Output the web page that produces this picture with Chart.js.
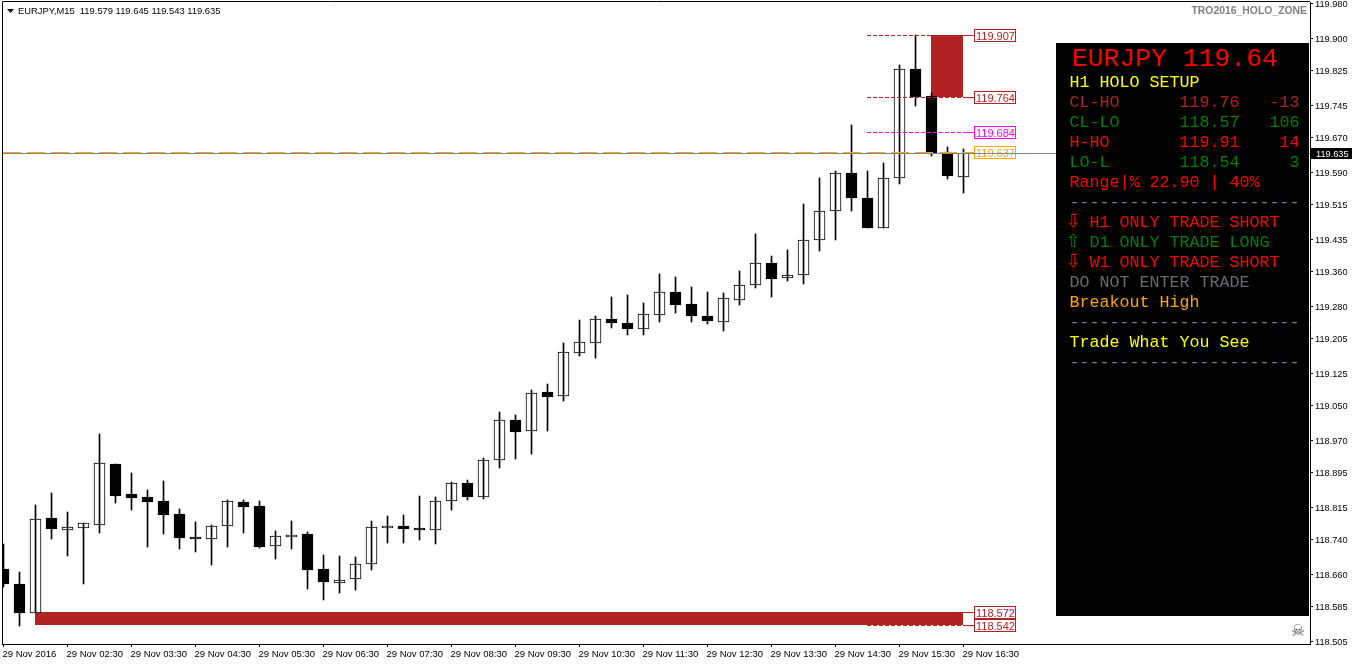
<!DOCTYPE html>
<html>
<head>
<meta charset="utf-8">
<title>EURJPY M15</title>
<script src="https://cdn.jsdelivr.net/npm/chart.js@4"></script>
<style>
  html, body { margin: 0; padding: 0; background: #fff; overflow: hidden; }
  canvas { display: block; }
</style>
</head>
<body>
<canvas id="chartCandle" width="1352" height="665"></canvas>
<script>
/* ---------- DATA ---------- */
const opens = [
  118.672, 118.639, 118.571, 118.790, 118.763, 118.768, 118.775, 118.915, 118.846, 118.839,
  118.830, 118.799, 118.746, 118.742, 118.772, 118.827, 118.818, 118.726, 118.747, 118.753,
  118.672, 118.640, 118.649, 118.684, 118.768, 118.772, 118.767, 118.763, 118.830, 118.871,
  118.839, 118.925, 119.017, 118.992, 119.082, 119.074, 119.173, 119.196, 119.251, 119.242,
  119.229, 119.261, 119.314, 119.286, 119.258, 119.245, 119.296, 119.329, 119.381, 119.347,
  119.354, 119.433, 119.502, 119.590, 119.532, 119.461, 119.577, 119.829, 119.766, 119.637,
  119.579
];
const highs = [
  118.731, 118.665, 118.820, 118.848, 118.804, 118.780, 118.985, 118.915, 118.894, 118.855,
  118.876, 118.811, 118.781, 118.774, 118.832, 118.832, 118.830, 118.760, 118.783, 118.758,
  118.704, 118.702, 118.700, 118.783, 118.795, 118.797, 118.841, 118.839, 118.873, 118.878,
  118.929, 119.036, 119.029, 119.087, 119.101, 119.196, 119.249, 119.258, 119.302, 119.307,
  119.288, 119.356, 119.349, 119.326, 119.314, 119.312, 119.363, 119.448, 119.397, 119.411,
  119.518, 119.578, 119.594, 119.701, 119.594, 119.613, 119.838, 119.907, 119.775, 119.650,
  119.645
];
const lows = [
  118.631, 118.540, 118.571, 118.741, 118.702, 118.637, 118.755, 118.825, 118.809, 118.723,
  118.753, 118.718, 118.711, 118.683, 118.723, 118.755, 118.721, 118.697, 118.718, 118.626,
  118.600, 118.617, 118.623, 118.670, 118.732, 118.732, 118.739, 118.730, 118.809, 118.832,
  118.834, 118.906, 118.927, 118.938, 118.992, 119.061, 119.166, 119.161, 119.231, 119.215,
  119.215, 119.244, 119.265, 119.244, 119.240, 119.224, 119.284, 119.323, 119.302, 119.339,
  119.333, 119.409, 119.435, 119.502, 119.462, 119.461, 119.563, 119.743, 119.629, 119.574,
  119.543
];
const closes = [
  118.638, 118.571, 118.789, 118.765, 118.769, 118.779, 118.917, 118.841, 118.836, 118.827,
  118.797, 118.744, 118.741, 118.773, 118.829, 118.816, 118.723, 118.748, 118.752, 118.670,
  118.642, 118.648, 118.685, 118.769, 118.773, 118.765, 118.762, 118.829, 118.871, 118.839,
  118.926, 119.017, 118.989, 119.079, 119.071, 119.174, 119.197, 119.251, 119.242, 119.228,
  119.262, 119.313, 119.284, 119.258, 119.247, 119.299, 119.330, 119.381, 119.344, 119.353,
  119.434, 119.501, 119.589, 119.530, 119.462, 119.578, 119.829, 119.764, 119.635, 119.581,
  119.635
];

const xTickIndex = [0, 4, 8, 12, 16, 20, 24, 28, 32, 36, 40, 44, 48, 52, 56, 60];
const xTickLabels = [
  '29 Nov 2016', '29 Nov 02:30', '29 Nov 03:30', '29 Nov 04:30', '29 Nov 05:30', '29 Nov 06:30',
  '29 Nov 07:30', '29 Nov 08:30', '29 Nov 09:30', '29 Nov 10:30', '29 Nov 11:30', '29 Nov 12:30',
  '29 Nov 13:30', '29 Nov 14:30', '29 Nov 15:30', '29 Nov 16:30'
];
const yTicks = [
  119.980, 119.900, 119.825, 119.745, 119.670, 119.590, 119.515, 119.435, 119.360, 119.280,
  119.205, 119.125, 119.050, 118.970, 118.895, 118.815, 118.740, 118.660, 118.585, 118.505
];

const lastPrice = 119.635;
const orangeLevel = 119.637;
const levelValues = [119.907, 119.764, 119.684, 119.637, 118.572, 118.542];
const levelColors = ['#b22222', '#b22222', '#ff00ff', '#ffa500', '#b22222', '#b22222'];
const dashedLevels = [119.907, 119.764, 119.684, 118.542];
const zoneHigh = [119.907, 119.764];
const zoneLow = [118.572, 118.542];

const headerText = 'EURJPY,M15  119.579 119.645 119.543 119.635';
const watermarkText = 'TRO2016_HOLO_ZONE';

const FIREBRICK = '#b22222';
const GREEN = '#008000';
const RED = '#ff0000';
const YELLOW = '#ffff00';
const ORANGE = '#ffa500';
const SLATE = '#708090';
const DOWN = '\u21e9';
const UP = '\u21e7';

const panelTitle = 'EURJPY 119.64';
const panelRows = [
  ['H1 HOLO SETUP', YELLOW],
  ['CL-HO      119.76   -13', FIREBRICK],
  ['CL-LO      118.57   106', GREEN],
  ['H-HO       119.91    14', RED],
  ['LO-L       118.54     3', GREEN],
  ['Range|% 22.90 | 40%', RED],
  ['-----------------------', SLATE],
  ['  H1 ONLY TRADE SHORT', RED, DOWN],
  ['  D1 ONLY TRADE LONG', GREEN, UP],
  ['  W1 ONLY TRADE SHORT', RED, DOWN],
  ['DO NOT ENTER TRADE', '#666b72'],
  ['Breakout High', ORANGE],
  ['-----------------------', SLATE],
  ['Trade What You See', YELLOW],
  ['-----------------------', SLATE]
];

const TICK_FONT = 'Liberation Sans';
const MONO = '"Liberation Mono", monospace';

// whole pixel row of a level
function levelRow(scale, v) { return Math.round(scale.getPixelForValue(v) - 0.1); }

/* ---------- PLUGIN: snap candles to whole pixels ---------- */
const snapBars = {
  id: 'snapBars',
  beforeDatasetsDraw(chart) {
    chart.data.datasets.forEach((_, i) => {
      chart.getDatasetMeta(i).data.forEach(bar => {
        bar.y = Math.round(bar.y);
        bar.base = Math.round(bar.base);
      });
    });
  }
};

/* ---------- PLUGIN: red zones behind the candles ---------- */
const zones = {
  id: 'zones',
  beforeDatasetsDraw(chart) {
    const { ctx, scales: { x, y } } = chart;
    ctx.save();
    ctx.fillStyle = FIREBRICK;
    const top = levelRow(y, zoneHigh[0]);
    const bottom = levelRow(y, zoneHigh[1]);
    ctx.fillRect(Math.round(x.getPixelForValue(58)) - 1, top, 32, bottom - top);
    const top2 = levelRow(y, zoneLow[0]);
    const bottom2 = levelRow(y, zoneLow[1]);
    ctx.fillRect(35, top2, 928, bottom2 - top2);
    ctx.restore();
  }
};

/* ---------- PLUGIN: level lines and labels over the candles ---------- */
const levels = {
  id: 'levels',
  afterDatasetsDraw(chart) {
    const { ctx, chartArea, scales: { y } } = chart;
    ctx.save();
    ctx.lineWidth = 1;

    // dashed level lines
    dashedLevels.forEach(v => {
      const py = levelRow(y, v) + 0.5;
      ctx.strokeStyle = levelColors[levelValues.indexOf(v)];
      ctx.setLineDash([4, 2]);
      ctx.beginPath();
      ctx.moveTo(867, py);
      ctx.lineTo(963, py);
      ctx.stroke();
    });
    ctx.setLineDash([]);

    // orange level
    const oy = levelRow(y, orangeLevel) + 0.5;
    ctx.strokeStyle = ORANGE;
    ctx.setLineDash([18, 6]);
    ctx.beginPath();
    ctx.moveTo(3, oy);
    ctx.lineTo(974, oy);
    ctx.stroke();
    ctx.setLineDash([]);

    // label boxes
    levelValues.forEach((v, i) => {
      const py = levelRow(y, v);
      ctx.strokeStyle = levelColors[i];
      ctx.beginPath();
      ctx.moveTo(963, py + 0.5);
      ctx.lineTo(974, py + 0.5);
      ctx.stroke();
      ctx.fillStyle = '#fff';
      ctx.fillRect(974, py - 6, 42, 13);
      ctx.strokeRect(974.5, py - 5.5, 41, 12);
      ctx.fillStyle = levelColors[i];
      ctx.font = '11px "Liberation Sans"';
      ctx.textAlign = 'left';
      ctx.textBaseline = 'alphabetic';
      ctx.fillText(v.toFixed(3), 976, py + 4.5);
    });

    // last price line
    const gy = Math.round(y.getPixelForValue(lastPrice)) + 0.5;
    ctx.strokeStyle = '#778899';
    ctx.beginPath();
    ctx.moveTo(chartArea.left, gy);
    ctx.lineTo(chartArea.right, gy);
    ctx.stroke();
    ctx.restore();
  }
};

/* ---------- PLUGIN: frame, texts, price tag and info panel ---------- */
const overlay = {
  id: 'overlay',
  afterDraw(chart) {
    const { ctx, chartArea, scales: { y } } = chart;
    ctx.save();

    // frame top and left
    ctx.strokeStyle = '#000';
    ctx.lineWidth = 1;
    ctx.beginPath();
    ctx.moveTo(chartArea.left + 0.5, chartArea.bottom);
    ctx.lineTo(chartArea.left + 0.5, chartArea.top - 0.5);
    ctx.lineTo(chartArea.right, chartArea.top - 0.5);
    ctx.stroke();

    // header
    ctx.fillStyle = '#000';
    ctx.beginPath();
    ctx.moveTo(7, 9);
    ctx.lineTo(14, 9);
    ctx.lineTo(10.5, 13);
    ctx.closePath();
    ctx.fill();
    ctx.font = '9.4px "Liberation Sans"';
    ctx.textAlign = 'left';
    ctx.textBaseline = 'alphabetic';
    ctx.fillText(headerText, 18, 14);

    ctx.fillStyle = '#808080';
    ctx.font = 'bold 10.4px "Liberation Sans"';
    ctx.textAlign = 'right';
    ctx.fillText(watermarkText, 1307, 14);

    // skull
    ctx.font = '16px "DejaVu Sans"';
    ctx.textAlign = 'center';
    ctx.fillStyle = '#555';
    ctx.fillText('\u2620', 1298, 636);

    // price tag
    const tagY = Math.round(y.getPixelForValue(lastPrice));
    ctx.fillStyle = '#000';
    ctx.fillRect(1311, tagY - 5, 41, 11);
    ctx.fillStyle = '#fff';
    ctx.font = `9.2px "${TICK_FONT}"`;
    ctx.textAlign = 'left';
    ctx.fillText(lastPrice.toFixed(3), 1316, tagY + 4);

    // info panel
    ctx.fillStyle = '#000';
    ctx.fillRect(1056, 43, 253, 573);
    ctx.textAlign = 'left';
    ctx.fillStyle = RED;
    ctx.font = '26.4px ' + MONO;
    ctx.fillText(panelTitle, 1072, 66);
    panelRows.forEach((row, i) => {
      const base = 87 + i * 20;
      ctx.fillStyle = row[1];
      ctx.font = '16.67px ' + MONO;
      ctx.fillText(row[0], 1069.5, base);
      if (row[2]) {
        ctx.font = '18px "DejaVu Sans"';
        ctx.fillText(row[2], 1066, base);
      }
    });
    ctx.restore();
  }
};

/* ---------- CHART ---------- */
const wickData = highs.map((h, i) => ({ x: i, y: [lows[i], h] }));
const bodyData = opens.map((o, i) => ({ x: i, y: [o, closes[i]] }));

new Chart(document.getElementById('chartCandle'), {
  type: 'bar',
  data: {
    datasets: [
      {
        label: 'Wick',
        data: wickData,
        grouped: false,
        barThickness: 1,
        backgroundColor: '#000',
        borderWidth: 0
      },
      {
        label: 'Body',
        data: bodyData,
        grouped: false,
        barThickness: 11,
        backgroundColor: closes.map((c, i) => c >= opens[i] ? '#fff' : '#000'),
        borderColor: '#000',
        borderWidth: 1,
        borderSkipped: false
      }
    ]
  },
  options: {
    responsive: false,
    animation: false,
    layout: { padding: { left: 2, top: 2, right: 0, bottom: 0 } },
    plugins: { legend: { display: false }, tooltip: { enabled: false } },
    scales: {
      x: {
        type: 'linear',
        offset: false,
        min: -0.09375,
        max: 81.656,
        afterBuildTicks: scale => { scale.ticks = xTickIndex.map(v => ({ value: v })); },
        afterFit: scale => {
          scale.height = 21;
          scale.paddingLeft = 0;
          scale.paddingRight = 0;
        },
        ticks: {
          autoSkip: false,
          maxRotation: 0,
          align: 'start',
          labelOffset: -1,
          padding: 2,
          color: '#000',
          font: { family: TICK_FONT, size: 9.5 },
          callback: v => xTickLabels[xTickIndex.indexOf(v)]
        },
        grid: { offset: false, drawOnChartArea: false, color: '#000', tickLength: 3 },
        border: { color: '#000', width: 1 }
      },
      y: {
        position: 'right',
        min: 118.4992,
        max: 119.9845,
        afterBuildTicks: scale => { scale.ticks = yTicks.map(v => ({ value: v })); },
        afterFit: scale => {
          scale.width = 42;
          scale.paddingTop = 0;
          scale.paddingBottom = 0;
        },
        ticks: {
          autoSkip: false,
          padding: 2,
          labelOffset: 1,
          color: '#000',
          font: { family: TICK_FONT, size: 9.2 },
          callback: v => v.toFixed(3)
        },
        grid: { drawOnChartArea: false, color: '#000', tickLength: 3 },
        border: { color: '#000', width: 1 }
      }
    }
  },
  plugins: [snapBars, zones, levels, overlay]
});
</script>
</body>
</html>
